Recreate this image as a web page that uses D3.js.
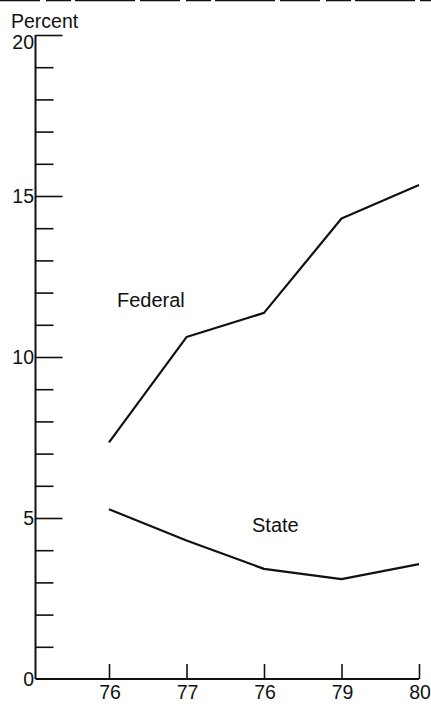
<!DOCTYPE html>
<html><head><meta charset="utf-8">
<script src="https://cdn.jsdelivr.net/npm/d3@7"></script>
<style>html,body{margin:0;padding:0;background:#fff;}svg{display:block;}</style>
</head><body>
<script>
const years = [76, 77, 78, 79, 80];
const xTickLabels = ["76", "77", "76", "79", "80"];
const federal = [7.35, 10.62, 11.37, 14.3, 15.34];
const state = [5.27, 4.3, 3.42, 3.1, 3.57];
const yMajorTicks = [0, 5, 10, 15, 20];
const yMinorTicks = d3.range(1, 20).filter(v => v % 5 !== 0);

const W = 431, H = 707;
const svg = d3.select("body").append("svg").attr("width", W).attr("height", H);
const font = "'Liberation Sans', Arial, Helvetica, sans-serif";
const ink = "#111";

const x = d3.scaleLinear().domain([76, 80]).range([109, 419]);
const y = d3.scaleLinear().domain([0, 20]).range([679, 35]);
const axisX0 = 35.5;

// scan border artefact at top
svg.append("line").attr("x1", 0).attr("x2", W).attr("y1", 0.5).attr("y2", 0.5)
  .attr("stroke", ink).attr("stroke-width", 1.5).attr("stroke-dasharray", "40,6,25,4,60,5");

// y axis line
svg.append("line").attr("x1", axisX0).attr("x2", axisX0).attr("y1", y(20)).attr("y2", y(0))
  .attr("stroke", ink).attr("stroke-width", 2);
// x axis line
svg.append("line").attr("x1", axisX0).attr("x2", x(80)).attr("y1", y(0)).attr("y2", y(0))
  .attr("stroke", ink).attr("stroke-width", 2);

// y ticks (pointing right, into plot)
const yMajor = d3.axisRight(y).tickValues(yMajorTicks.filter(v => v > 0)).tickSize(27).tickFormat("");
const gyM = svg.append("g").attr("transform", `translate(${axisX0},0)`).call(yMajor);
const yMinor = d3.axisRight(y).tickValues(yMinorTicks).tickSize(18).tickFormat("");
const gym = svg.append("g").attr("transform", `translate(${axisX0},0)`).call(yMinor);
[gyM, gym].forEach(g => {
  g.select(".domain").remove();
  g.selectAll(".tick line").attr("stroke", ink).attr("stroke-width", 1.6);
});

// y labels
svg.append("g").selectAll("text").data(yMajorTicks).join("text")
  .attr("x", 34).attr("y", d => y(d) + (d === 20 ? 7 : 0)).attr("dy", "0.36em")
  .attr("text-anchor", "end").attr("font-family", font).attr("font-size", 19.5).attr("fill", ink)
  .text(d => d);

// x ticks pointing up
const xAxis = d3.axisTop(x).tickValues(years).tickSize(15).tickFormat("");
const gx = svg.append("g").attr("transform", `translate(0,${y(0)})`).call(xAxis);
gx.select(".domain").remove();
gx.selectAll(".tick line").attr("stroke", ink).attr("stroke-width", 1.6);

svg.append("g").selectAll("text").data(years).join("text")
  .attr("x", d => x(d) + 1).attr("y", 699)
  .attr("text-anchor", "middle").attr("font-family", font).attr("font-size", 19.5).attr("fill", ink)
  .text((d, i) => xTickLabels[i]);

// axis title
svg.append("text").attr("x", 11).attr("y", 28).attr("font-family", font).attr("font-size", 19.5)
  .attr("fill", ink).text("Percent");

// lines
const line = d3.line().x((d, i) => x(years[i])).y(d => y(d));
[federal, state].forEach(s => {
  svg.append("path").datum(s).attr("d", line).attr("fill", "none")
    .attr("stroke", ink).attr("stroke-width", 2.2).attr("stroke-linejoin", "round");
});

// series labels
svg.append("text").attr("x", 117).attr("y", 307).attr("font-family", font).attr("font-size", 20)
  .attr("fill", ink).text("Federal");
svg.append("text").attr("x", 252).attr("y", 532).attr("font-family", font).attr("font-size", 20)
  .attr("fill", ink).text("State");
</script>
</body></html>
